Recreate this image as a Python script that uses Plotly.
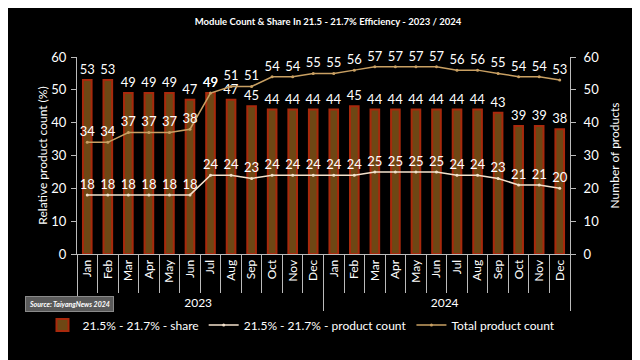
import plotly.graph_objects as go

months = ["Jan", "Feb", "Mar", "Apr", "May", "Jun", "Jul", "Aug", "Sep", "Oct", "Nov", "Dec"]
years = ["2023"] * 12 + ["2024"] * 12
month_labels = months * 2

share = [53, 53, 49, 49, 49, 47, 49, 47, 45, 44, 44, 44,
         44, 45, 44, 44, 44, 44, 44, 44, 43, 39, 39, 38]
product_count = [18, 18, 18, 18, 18, 18, 24, 24, 23, 24, 24, 24,
                 24, 24, 25, 25, 25, 25, 24, 24, 23, 21, 21, 20]
total_count = [34, 34, 37, 37, 37, 38, 49, 51, 51, 54, 54, 55,
               55, 56, 57, 57, 57, 57, 56, 56, 55, 54, 54, 53]

x = [years, month_labels]
FONT = "Lato"

fig = go.Figure()
fig.add_trace(go.Bar(
    x=x, y=share, name="21.5% - 21.7% - share",
    marker=dict(color="#6e4714", line=dict(color="#a8290c", width=2)),
    width=0.42,
    text=share, textposition="outside", cliponaxis=False, constraintext="none",
    textfont=dict(color="white", size=13, family=FONT),
))
fig.add_trace(go.Scatter(
    x=x, y=product_count, name="21.5% - 21.7% - product count", yaxis="y2",
    mode="lines+markers+text", line=dict(color="#f4e2cc", width=1.5),
    marker=dict(size=3, color="#f4e2cc"),
    text=product_count, textposition="top center", cliponaxis=False,
    textfont=dict(color="white", size=13, family=FONT),
))
fig.add_trace(go.Scatter(
    x=x, y=total_count, name="Total product count", yaxis="y2",
    mode="lines+markers+text", line=dict(color="#c9a063", width=1.5),
    marker=dict(size=3, color="#c9a063"),
    text=total_count, textposition="top center", cliponaxis=False,
    textfont=dict(color="white", size=13, family=FONT),
))

axis_common = dict(range=[0, 60], dtick=10, showgrid=False, zeroline=False,
                   showline=True, linecolor="#bbbbbb", linewidth=1,
                   ticks="outside", ticklen=5, tickcolor="#bbbbbb", automargin=False,
                   tickfont=dict(color="white", size=13, family=FONT))

fig.update_layout(
    width=640, height=360,
    paper_bgcolor="black", plot_bgcolor="black",
    margin=dict(l=69, r=78, t=49, b=114, autoexpand=False),
    title=dict(text="<b>Module Count & Share In 21.5 - 21.7% Efficiency - 2023 / 2024</b>",
               x=0.5, xanchor="center", y=0.961, yanchor="middle",
               font=dict(color="white", size=9.5, family=FONT)),
    font=dict(family=FONT, color="white"),
    xaxis=dict(type="multicategory", range=[-0.5, 23.5], showline=True, linecolor="#bbbbbb",
               automargin=False,
               ticks="outside", tickson="boundaries", ticklen=38, tickcolor="#bbbbbb",
               showdividers=True, dividercolor="#bbbbbb", dividerwidth=1,
               tickangle=-90, tickfont=dict(color="white", size=12, family=FONT),
               showgrid=False),
    yaxis=dict(title=dict(text="Relative product count (%)", font=dict(color="white", size=12, family=FONT), standoff=1),
               ticklabelstandoff=2, **axis_common),
    yaxis2=dict(title=dict(text="Number of products", font=dict(color="white", size=12, family=FONT), standoff=12),
                overlaying="y", side="right", ticklabelstandoff=5, **axis_common),
    legend=dict(orientation="h", x=-0.07, xanchor="left",
                y=-0.36, yanchor="middle",
                font=dict(color="white", size=12, family=FONT), bgcolor="rgba(0,0,0,0)",
                itemwidth=30, tracegroupgap=0),
    showlegend=True,
)
fig.add_annotation(text="<b><i>Source: TaiyangNews 2024</i></b>", xref="paper", yref="paper",
                   x=-0.105, y=-0.256, xanchor="left", yanchor="middle", showarrow=False,
                   font=dict(color="white", size=7, family=FONT),
                   bgcolor="#5a5a5a", bordercolor="#8a8a8a", borderwidth=1, borderpad=3)

fig.write_html("out.html")
